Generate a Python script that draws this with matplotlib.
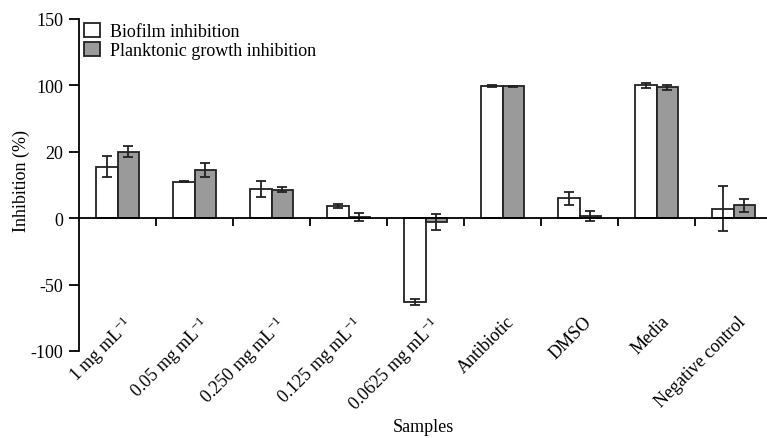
import numpy as np
import matplotlib
matplotlib.use("Agg")
import matplotlib.pyplot as plt

plt.rcParams['font.family'] = ['Liberation Serif', 'DejaVu Serif']
plt.rcParams['mathtext.fontset'] = 'custom'
plt.rcParams['mathtext.rm'] = 'Liberation Serif'
plt.rcParams['mathtext.it'] = 'Liberation Serif'

samples = ["1 mg mL$^{-1}$", "0.05 mg mL$^{-1}$", "0.250 mg mL$^{-1}$",
           "0.125 mg mL$^{-1}$", "0.0625 mg mL$^{-1}$", "Antibiotic",
           "DMSO", "Media", "Negative control"]

# values as they sit on the (oddly labelled) axis
biofilm = [38.8, 27.5, 22.0, 9.0, -63.3, 99.5, 15.0, 100.0, 7.3]
biofilm_err = [8.0, 0.5, 5.7, 1.6, 2.2, 0.5, 5.0, 2.0, 16.6]
plankton = [50.0, 36.2, 21.5, 1.0, -3.0, 99.5, 1.5, 98.5, 9.7]
plankton_err = [4.0, 5.4, 1.9, 3.0, 6.0, 0.4, 3.8, 2.1, 5.0]

ytick_pos = [-100, -50, 0, 50, 100, 150]
ytick_labels = ["-100", "-50", "0", "20", "100", "150"]

fig = plt.figure(figsize=(7.67, 4.39), dpi=100)
ax = fig.add_axes([79 / 767, 1 - 352 / 439, 1 - 79 / 767, 332 / 439])

x = np.arange(len(samples))
w = 0.275
err_kw = dict(ecolor="#222222", elinewidth=1.3, capsize=3.5, capthick=1.3)
ax.bar(x - w / 2, biofilm, w, yerr=biofilm_err, color="white",
       edgecolor="#222222", linewidth=1.3, error_kw=err_kw,
       label="Biofilm inhibition")
ax.bar(x + w / 2, plankton, w, yerr=plankton_err, color="#9a9a9a",
       edgecolor="#222222", linewidth=1.3, error_kw=err_kw,
       label="Planktonic growth inhibition")

ax.set_xlim(-0.5, 8.435)
ax.set_ylim(-100, 150)

for s in ["top", "right"]:
    ax.spines[s].set_visible(False)
ax.spines["bottom"].set_position(("data", 0))
ax.spines["left"].set_linewidth(1.3)
ax.spines["bottom"].set_linewidth(1.3)

ax.set_xticks(np.arange(0.5, len(samples) - 0.5, 1.0))
ax.set_xticklabels([])
ax.tick_params(axis="x", direction="out", length=6, width=1.3)
ax.set_yticks(ytick_pos, ytick_labels)
ax.tick_params(axis="y", direction="out", length=7.5, width=1.3, labelsize=13, pad=4)

# category labels hang just above the bottom of the axes
for xi, name in zip(x, samples):
    ax.text(xi + 0.05, -71, name, rotation=45, rotation_mode="anchor",
            ha="right", va="top", fontsize=13)

fig.text(423 / 767, 1 - 428 / 439, "Samples", ha="center", va="center",
         fontsize=13)
ax.set_ylabel("Inhibition (%)", fontsize=13)
ax.yaxis.set_label_coords(-0.071, 0.515)

ax.legend(loc="upper left", bbox_to_anchor=(-0.003, 1.009), frameon=False,
          fontsize=13, handlelength=0.9, handleheight=0.8, handletextpad=0.55,
          labelspacing=0.1, borderaxespad=0)

fig.savefig("out.png", dpi=100)
